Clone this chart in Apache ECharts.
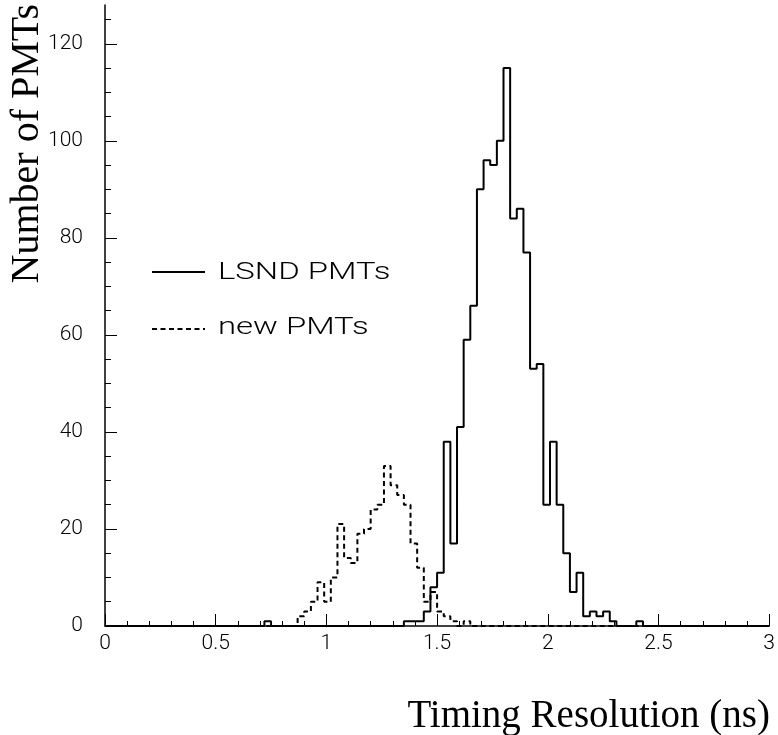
<!DOCTYPE html>
<html>
<head>
<meta charset="utf-8">
<script src="https://cdn.jsdelivr.net/npm/echarts@6/dist/echarts.min.js"></script>
<style>
html,body{margin:0;padding:0;background:#fff;}
#chart{width:778px;height:735px;}
</style>
</head>
<body>
<div id="chart"></div>
<script>
// Histogram bin width (ns); bins start at 0
const binWidth = 0.03;
const xMin = 0, xMax = 3;
const yMin = 0, yMax = 128;

// Counts per bin, LSND PMTs (solid)
const lsndCounts = [
  0,0,0,0,0,0,0,0,0,0,
  0,0,0,0,0,0,0,0,0,0,
  0,0,0,0,1,0,0,0,0,0,
  0,0,0,0,0,0,0,0,0,0,
  0,0,0,0,0,1,1,1,3,8,
  11,38,17,41,59,66,90,96,95,100,
  115,84,86,77,53,54,25,38,25,15,
  7,11,2,3,2,3,1,0,0,0,
  1,0,0,0,0,0,0,0,0,0,
  0,0,0,0,0,0,0,0,0,0
];

// Counts per bin, new PMTs (dashed)
const newCounts = [
  0,0,0,0,0,0,0,0,0,0,
  0,0,0,0,0,0,0,0,0,0,
  0,0,0,0,0,0,0,0,0,2,
  3,5,9,5,10,21,14,13,19,20,
  24,25,33,29,27,25,17,12,5,7,
  3,2,1,0,1,0,0,0,0,0,
  0,0,0,0,0,0,0,0,0,0,
  0,0,0,0,0,0,0,0,0,0,
  0,0,0,0,0,0,0,0,0,0,
  0,0,0,0,0,0,0,0,0,0
];

// y-axis tick values
const yMajorTicks = [0, 20, 40, 60, 80, 100, 120];
const yMinorTicks = [5, 10, 15, 25, 30, 35, 45, 50, 55, 65, 70, 75, 85, 90, 95, 105, 110, 115, 125];

const seriesNames = ['LSND PMTs', 'new PMTs'];
const xTitle = 'Timing Resolution (ns)';
const yTitle = 'Number of PMTs';

function histPoints(counts) {
  const pts = counts.map((c, i) => [+(i * binWidth).toFixed(4), c]);
  pts.push([+(counts.length * binWidth).toFixed(4), counts[counts.length - 1]]);
  return pts;
}

const labelFont = { fontFamily: 'Roboto', fontWeight: 300, fontSize: 21, color: '#000' };

const chart = echarts.init(document.getElementById('chart'), null, { renderer: 'canvas' });
chart.setOption({
  animation: false,
  backgroundColor: '#fff',
  grid: { left: 105, right: 8, top: 5, bottom: 109, containLabel: false },
  xAxis: {
    type: 'value', min: xMin, max: xMax, interval: 0.5,
    axisLine: { show: true, lineStyle: { color: '#000', width: 1.5 } },
    axisTick: { show: true, inside: true, length: 12, lineStyle: { color: '#000', width: 1 } },
    minorTick: { show: true, splitNumber: 5, length: 5, lineStyle: { color: '#000', width: 1 } },
    splitLine: { show: false },
    axisLabel: Object.assign({ margin: 7 }, labelFont)
  },
  yAxis: [
    {
      type: 'value', min: yMin, max: yMax, position: 'left',
      axisLine: { show: true, lineStyle: { color: '#000', width: 1.5 } },
      axisTick: { show: true, inside: true, length: 12, customValues: yMajorTicks, lineStyle: { color: '#000', width: 1 } },
      splitLine: { show: false },
      axisLabel: Object.assign({ margin: 22, customValues: yMajorTicks }, labelFont)
    },
    {
      type: 'value', min: yMin, max: yMax, position: 'left', offset: 0,
      axisLine: { show: false },
      axisTick: { show: true, inside: true, length: 6, customValues: yMinorTicks, lineStyle: { color: '#000', width: 1 } },
      splitLine: { show: false },
      axisLabel: { show: false }
    }
  ],
  series: [
    {
      name: seriesNames[0], type: 'line', step: 'end', symbol: 'none', yAxisIndex: 0,
      data: histPoints(lsndCounts),
      lineStyle: { color: '#000', width: 2 }, z: 3
    },
    {
      name: seriesNames[1], type: 'line', step: 'end', symbol: 'none', yAxisIndex: 0,
      data: histPoints(newCounts),
      lineStyle: { color: '#000', width: 2, type: [5, 3.5] }, z: 2
    }
  ],
  graphic: [
    { type: 'line', shape: { x1: 152, y1: 272, x2: 205, y2: 272 }, style: { stroke: '#000', lineWidth: 2 } },
    { type: 'text', x: 218, y: 273, scaleX: 1.37, style: { text: seriesNames[0], fontFamily: 'Roboto', fontWeight: 300, fontSize: 24, fill: '#000', textAlign: 'left', textVerticalAlign: 'middle' } },
    { type: 'line', shape: { x1: 152, y1: 329, x2: 205, y2: 329 }, style: { stroke: '#000', lineWidth: 2, lineDash: [5, 3.5] } },
    { type: 'text', x: 218, y: 328, scaleX: 1.37, style: { text: seriesNames[1], fontFamily: 'Roboto', fontWeight: 300, fontSize: 24, fill: '#000', textAlign: 'left', textVerticalAlign: 'middle' } },
    { type: 'text', x: 770, y: 717, style: { text: xTitle, fontFamily: 'Liberation Serif', fontSize: 39, fill: '#000', textAlign: 'right', textVerticalAlign: 'middle' } },
    { type: 'text', x: 27, y: 4, rotation: Math.PI / 2, style: { text: yTitle, fontFamily: 'Liberation Serif', fontSize: 40, fill: '#000', textAlign: 'right', textVerticalAlign: 'middle' } }
  ]
});
</script>
</body>
</html>
